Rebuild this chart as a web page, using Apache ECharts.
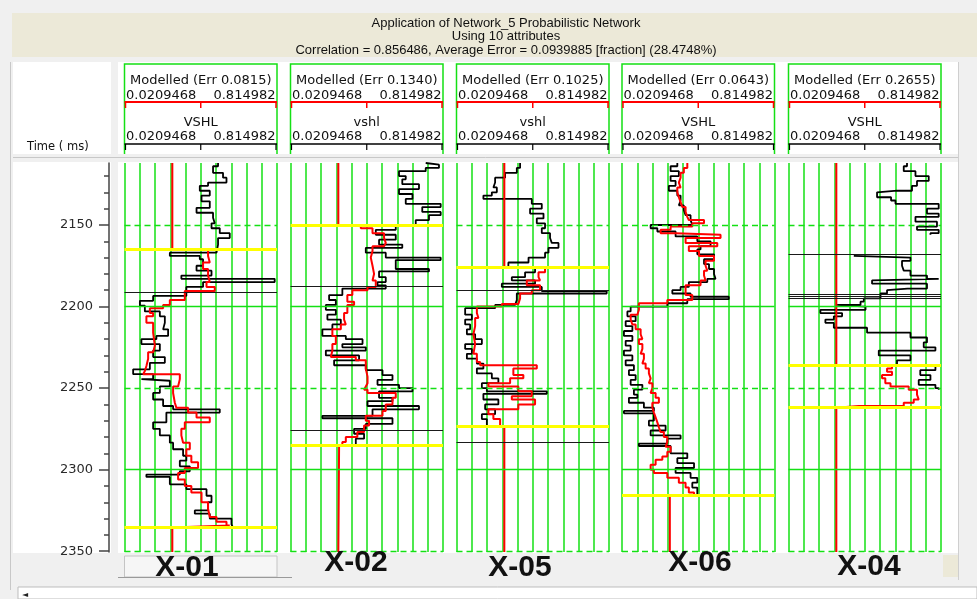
<!DOCTYPE html>
<html>
<head>
<meta charset="utf-8">
<script src="https://cdn.jsdelivr.net/npm/echarts/dist/echarts.min.js"></script>
<style>
  html, body { margin: 0; padding: 0; background: #f0f0f0; }
  #chart { width: 977px; height: 599px; }
</style>
</head>
<body>
<div id="chart"></div>
<script>
// ---- Axis ranges and labels ----
const timeMin = 2112;
const timeMax = 2350.5;
const labelTimes = [2150, 2200, 2250, 2300, 2350];
const minorTimes = [2120, 2130, 2140, 2150, 2160, 2170, 2180, 2190, 2200, 2210, 2220, 2230, 2240,
  2250, 2260, 2270, 2280, 2290, 2300, 2310, 2320, 2330, 2340, 2350];
const gridTimes = [2150, 2200, 2250, 2300, 2350];
const scaleMin = 0.0209468;
const scaleMax = 0.814982;
const scaleLabels = ['0.0209468', '0.814982'];

const titleLines = [
  'Application of Network_5 Probabilistic Network',
  'Using 10 attributes',
  'Correlation = 0.856486, Average Error = 0.0939885 [fraction] (28.4748%)'
];
const wellNames = ['X-01', 'X-02', 'X-05', 'X-06', 'X-04'];
const curveNames = ['VSHL', 'vshl', 'vshl', 'VSHL', 'VSHL'];
const modelErrors = ['0.0815', '0.1340', '0.1025', '0.0643', '0.2655'];
const modelFill = [0.27, 0.27, 0.27, 0.27, 0.27];

// ---- Well X-01 : [time ms, value] ----
const x01Vshl = [[2112,0.508],[2114,0.482],[2118,0.534],[2121,0.552],[2124,0.456],[2126,0.413],[2129,0.465],
  [2132,0.422],[2135.5,0.465],[2139.5,0.396],[2142.5,0.482],[2145.5,0.491],[2149,0.474],[2152,0.517],[2155,0.569],
  [2158,0.508],[2162,0.500],[2167,0.257],[2169,0.413],[2171,0.430],[2175,0.396],[2178,0.474],[2181,0.317],
  [2183,0.803],[2185,0.430],[2188,0.343],[2193.5,0.170],[2196.5,0.101],[2199.5,0.127],[2203,0.205],[2206,0.231],
  [2210,0.222],[2214,0.248],[2218,0.187],[2220,0.109],[2223,0.205],[2227,0.170],[2231,0.231],[2234.5,0.153],
  [2238.5,0.066],[2241.5,0.170],[2244.5,0.109],[2245.5,0.257],[2249,0.205],[2253,0.170],[2257,0.222],[2261,0.274],
  [2263,0.517],[2265,0.239],[2271,0.170],[2275,0.205],[2279,0.257],[2283.5,0.274],[2287.5,0.326],[2291.5,0.343],
  [2294.5,0.309],[2298,0.361],[2301,0.309],[2303,0.135],[2304.5,0.257],[2309,0.343],[2312,0.448],[2316,0.474],
  [2320,0.456],[2325,0.387],[2327,0.465],[2330,0.578],[2333.5,0.586],[2335.5,0.569]];
const x01Model = [[2165,0.456],[2169,0.465],[2173,0.430],[2177,0.456],[2181,0.465],[2185,0.448],[2188,0.491],
  [2190.5,0.335],[2196,0.257],[2199,0.222],[2201,0.153],[2204,0.170],[2206,0.135],[2210,0.170],[2216,0.179],
  [2224,0.170],[2228,0.144],[2232,0.135],[2236.5,0.127],[2239.5,0.118],[2241.5,0.309],[2244.5,0.300],[2249,0.274],
  [2253,0.283],[2259,0.291],[2262,0.352],[2265,0.396],[2268,0.465],[2271,0.335],[2275,0.317],[2279,0.326],
  [2283.5,0.361],[2287.5,0.343],[2291.5,0.369],[2295.5,0.404],[2299,0.335],[2302,0.300],[2306,0.335],[2310,0.369],
  [2314,0.422],[2320,0.456],[2324,0.465],[2329,0.500],[2332,0.552],[2334.3,0.569],[2335.5,0.569]];
const x01Window = [2165, 2335.5];
const x01Breaks = [2191.2];

// ---- Well X-02 ----
const x02Vshl = [[2112,0.725],[2113,0.794],[2115,0.725],[2117,0.586],[2120,0.621],[2122,0.603],[2125,0.690],
  [2128,0.586],[2131,0.656],[2134,0.621],[2137,0.803],[2139,0.707],[2142,0.803],[2144,0.742],[2147,0.673],
  [2150,0.569],[2153,0.465],[2156,0.569],[2159,0.482],[2162,0.603],[2164,0.413],[2167,0.517],[2170,0.803],
  [2171.5,0.569],[2177,0.742],[2178.5,0.482],[2182,0.517],[2185,0.474],[2187,0.517],[2189,0.291],[2193,0.222],
  [2196,0.257],[2199,0.205],[2202,0.257],[2205,0.213],[2208,0.283],[2211,0.239],[2214,0.187],[2218,0.309],
  [2220,0.396],[2223,0.291],[2225,0.413],[2227,0.205],[2230,0.378],[2233,0.248],[2236,0.413],[2239,0.500],
  [2242,0.552],[2245,0.474],[2248,0.586],[2250,0.656],[2252,0.482],[2256,0.552],[2258,0.422],[2261,0.690],
  [2263,0.448],[2267,0.187],[2268.5,0.552],[2272,0.413],[2275,0.352],[2278,0.404],[2281,0.361],[2285,0.369]];
const x02Model = [[2150,0.387],[2152,0.448],[2155,0.508],[2158,0.517],[2161,0.508],[2163,0.448],[2166,0.439],
  [2170,0.448],[2175,0.456],[2180,0.448],[2184,0.465],[2188,0.422],[2190,0.343],[2193,0.317],[2197,0.352],
  [2199,0.317],[2204,0.300],[2208,0.309],[2211,0.283],[2214,0.239],[2218,0.257],[2223,0.239],[2227,0.231],
  [2231,0.361],[2233,0.413],[2238,0.422],[2243,0.422],[2247,0.413],[2249,0.404],[2251,0.422],[2253,0.569],
  [2256,0.552],[2260,0.517],[2264,0.500],[2267,0.413],[2270,0.430],[2273,0.404],[2277,0.369],[2280,0.309],
  [2283,0.291],[2285,0.274]];
const x02Window = [2150, 2285];
const x02Breaks = [2187.5, 2275.7];

// ---- Well X-05 ----
const x05Vshl = [[2112,0.352],[2115,0.335],[2118,0.274],[2121,0.222],[2124,0.213],[2127,0.231],[2130,0.205],
  [2132,0.161],[2134,0.413],[2137,0.465],[2140,0.404],[2143,0.474],[2146,0.439],[2149,0.482],[2152,0.465],
  [2155,0.508],[2158,0.517],[2161,0.552],[2164,0.500],[2167,0.482],[2170,0.396],[2173,0.291],[2176,0.430],
  [2179,0.378],[2182,0.309],[2184,0.430],[2186,0.257],[2188,0.465],[2190.5,0.803],[2192,0.335],[2196,0.326],
  [2199,0.222],[2201,0.066],[2205,0.101],[2208,0.066],[2211,0.092],[2214,0.075],[2217,0.118],[2220,0.153],
  [2223,0.066],[2226,0.101],[2229,0.075],[2232,0.127],[2235,0.161],[2238,0.127],[2241,0.205],[2244,0.239],
  [2247,0.153],[2250,0.179],[2252,0.491],[2253.5,0.161],[2257,0.239],[2260,0.170],[2263,0.222],[2266,0.153],
  [2269,0.179],[2273,0.179]];
const x05Model = [[2176,0.482],[2179,0.448],[2182,0.456],[2184,0.387],[2187,0.456],[2190,0.413],[2192,0.352],
  [2195,0.343],[2198.5,0.257],[2200,0.127],[2204,0.135],[2207,0.118],[2212,0.109],[2217,0.118],[2223,0.109],
  [2229,0.127],[2234,0.144],[2236,0.439],[2238,0.317],[2242,0.369],[2244,0.300],[2247,0.187],[2249,0.343],
  [2252,0.413],[2255,0.309],[2257,0.430],[2260,0.343],[2263,0.187],[2266,0.213],[2269,0.248],[2273.7,0.248]];
const x05Window = [2176, 2273.7];
const x05Breaks = [2190, 2283.5];

// ---- Well X-06 (model window opens above the displayed interval) ----
const x06Vshl = [[2112,0.309],[2114,0.274],[2117,0.317],[2120,0.274],[2123,0.300],[2126,0.265],[2129,0.309],
  [2132,0.326],[2135,0.317],[2138,0.343],[2141,0.352],[2144,0.378],[2147,0.387],[2150,0.170],[2152,0.205],
  [2154,0.300],[2157,0.413],[2160,0.482],[2163,0.430],[2165,0.413],[2168,0.500],[2171,0.448],[2174,0.474],
  [2177,0.500],[2180,0.508],[2183,0.465],[2185,0.369],[2188,0.326],[2190,0.283],[2192,0.378],[2194,0.577],
  [2195.5,0.361],[2198,0.257],[2200,0.066],[2203,0.049],[2206,0.092],[2209,0.040],[2212,0.075],[2215,0.031],
  [2218,0.075],[2221,0.040],[2224,0.066],[2227,0.031],[2230,0.075],[2233,0.040],[2236,0.083],[2239,0.057],
  [2242,0.092],[2245,0.066],[2248,0.127],[2251,0.083],[2254,0.101],[2256,0.057],[2259,0.135],[2262,0.187],
  [2264,0.031],[2265.5,0.187],[2270,0.161],[2273,0.248],[2276,0.170],[2279,0.326],[2281,0.257],[2284,0.109],
  [2285.5,0.274],[2290,0.361],[2293,0.309],[2296,0.396],[2299,0.300],[2302,0.378],[2305,0.413],[2308,0.387],
  [2311,0.413],[2316,0.413]];
const x06Model = [[2112,0.361],[2115,0.343],[2118,0.326],[2121,0.317],[2124,0.326],[2127,0.309],[2130,0.317],
  [2133,0.326],[2136,0.335],[2139,0.352],[2142,0.361],[2145,0.369],[2147,0.448],[2149,0.387],[2151,0.274],
  [2153,0.222],[2155,0.300],[2156,0.534],[2158,0.352],[2161,0.517],[2163,0.369],[2166,0.422],[2169,0.500],
  [2172,0.456],[2175,0.465],[2178,0.448],[2181,0.456],[2184,0.430],[2187,0.352],[2190,0.352],[2193,0.387],
  [2196,0.257],[2198,0.109],[2202,0.101],[2205,0.066],[2208,0.075],[2211,0.092],[2214,0.118],[2217,0.127],
  [2220,0.109],[2223,0.127],[2226,0.118],[2229,0.135],[2232,0.127],[2235,0.144],[2238,0.161],[2241,0.170],
  [2244,0.161],[2247,0.179],[2250,0.170],[2253,0.196],[2256,0.213],[2259,0.179],[2262,0.187],[2265,0.196],
  [2268,0.205],[2271,0.213],[2274,0.222],[2277,0.239],[2280,0.257],[2283,0.248],[2286,0.274],[2289,0.257],
  [2292,0.231],[2294,0.196],[2297,0.170],[2300,0.187],[2302,0.257],[2305,0.317],[2308,0.352],[2311,0.369],
  [2314,0.396],[2316,0.404]];
const x06Window = [null, 2316];
const x06Breaks = [];

// ---- Well X-04 (null marks a gap in the log) ----
const x04Vshl = [[2112,0.638],[2114,0.621],[2117,0.682],[2120,0.751],[2123,0.690],[2126,0.664],[2129,0.586],
  [2130,0.482],[2133,0.555],[2135,0.578],[2137,0.803],[2140,0.742],[2143,0.803],[2145,0.682],[2148,0.794],
  [2151,0.690],[2153,0.803],[2155,0.760],[2156,0.760], null,
  [2169,0.361],[2170,0.656],[2172,0.612],[2175,0.621],[2178,0.656],[2181,0.742],[2183,0.803],[2184,0.456],
  [2186,0.742],[2189,0.641],[2190,0.534],[2192,0.500],[2195,0.413],[2197,0.396],[2199,0.274],[2200,0.422],
  [2202,0.187],[2204,0.300],[2206,0.257],[2208,0.213],[2210,0.257],[2213,0.430],[2216,0.656],[2219,0.742],
  [2222,0.725],[2225,0.786],[2227,0.491],[2230,0.656],[2233,0.586],[2236,0.786],[2239,0.707],[2242,0.760],
  [2245,0.699],[2248,0.786],[2250,0.803],[2251,0.803]];
const x04Model = [[2236,0.560],[2238,0.534],[2240,0.560],[2242,0.508],[2244,0.525],[2247,0.552],[2249,0.647],
  [2251,0.690],[2254,0.699],[2257,0.673],[2259,0.621],[2261,0.387],[2262,0.387]];
const x04Window = [2236, 2262];
const x04Breaks = [2167.8, 2192.7, 2193.7, 2194.7];

const wellVshl = [x01Vshl, x02Vshl, x05Vshl, x06Vshl, x04Vshl];
const wellModel = [x01Model, x02Model, x05Model, x06Model, x04Model];
const wellWindow = [x01Window, x02Window, x05Window, x06Window, x04Window];
const wellBreaks = [x01Breaks, x02Breaks, x05Breaks, x06Breaks, x04Breaks];

// ---- Layout ----
const trackLeft = [124.5, 290.5, 456.5, 622, 788.5];
const trackWidth = 152.5;
const plotTop = 163;
const plotHeight = 389;
const GREEN = '#14e014';
const YELLOW = '#ffff00';
const RED = '#ff0000';
const FONT = 'DejaVu Sans';

function toPoints(rows) {
  return rows.map(r => r === null ? [NaN, NaN] : [r[1], r[0]]);
}
function modelPath(curve, win, fill) {
  const pts = [];
  if (win[0] !== null) pts.push([fill, timeMin], [fill, win[0]]);
  curve.forEach(r => pts.push([r[1], r[0]]));
  if (win[1] !== null) pts.push([fill, win[1]], [fill, timeMax]);
  return pts;
}

const grids = [{ left: 109, top: plotTop, width: 4, height: plotHeight }];
const xAxes = [{ gridIndex: 0, type: 'value', show: false, min: 0, max: 1 }];
const yAxes = [
  { gridIndex: 0, type: 'value', inverse: true, min: timeMin, max: timeMax, position: 'left',
    axisLine: { show: true, lineStyle: { color: '#444', width: 1.5 } },
    axisTick: { show: true, customValues: minorTimes, length: 5, lineStyle: { color: '#444', width: 1.5 } },
    axisLabel: { show: false }, splitLine: { show: false } },
  { gridIndex: 0, type: 'value', inverse: true, min: timeMin, max: timeMax, position: 'left',
    axisLine: { show: false },
    axisTick: { show: true, customValues: labelTimes, length: 10, lineStyle: { color: '#444', width: 1.5 } },
    axisLabel: { show: true, customValues: labelTimes, margin: 16, color: '#2a2a2a', fontSize: 13,
      fontFamily: FONT, formatter: v => String(v) },
    splitLine: { show: false } }
];
const series = [];

wellNames.forEach((name, i) => {
  const g = i + 1;
  grids.push({ left: trackLeft[i], top: plotTop, width: trackWidth, height: plotHeight });
  // 10 equal divisions of the value scale
  xAxes.push({ gridIndex: g, type: 'value', min: 0, max: 10, interval: 1,
    axisLine: { show: false }, axisTick: { show: false }, axisLabel: { show: false },
    splitLine: { show: true, lineStyle: { color: GREEN, width: 1.5 } } });
  xAxes.push({ gridIndex: g, type: 'value', min: scaleMin, max: scaleMax, show: false });
  yAxes.push({ gridIndex: g, type: 'value', inverse: true, min: timeMin, max: timeMax, show: false });
  const xi = 2 * i + 2;
  const yi = g + 1;

  series.push({
    type: 'line', xAxisIndex: xi, yAxisIndex: yi, data: [], silent: true, z: 1,
    markLine: { symbol: 'none', silent: true, animation: false, label: { show: false },
      data: gridTimes.map(t => ({ yAxis: t,
        lineStyle: { color: GREEN, width: 1.3, type: t % 100 === 0 ? 'solid' : [6, 4] } })) }
  });
  series.push({
    type: 'line', xAxisIndex: xi, yAxisIndex: yi, data: [], silent: true, z: 2,
    markLine: { symbol: 'none', silent: true, animation: false, label: { show: false },
      data: wellWindow[i].filter(t => t !== null).map(t => ({ yAxis: t,
        lineStyle: { color: YELLOW, width: 3, type: 'solid' } })) }
  });
  series.push({
    name: curveNames[i], type: 'line', xAxisIndex: xi, yAxisIndex: yi, z: 3,
    data: toPoints(wellVshl[i]), step: 'start', showSymbol: false, symbol: 'none',
    lineStyle: { color: '#000', width: 1.8 },
    markLine: { symbol: 'none', silent: true, animation: false, label: { show: false },
      data: wellBreaks[i].map(t => ({ yAxis: t, lineStyle: { color: '#1a1a1a', width: 1.2, type: 'solid' } })) }
  });
  series.push({
    name: 'Modelled', type: 'line', xAxisIndex: xi, yAxisIndex: yi, z: 4,
    data: modelPath(wellModel[i], wellWindow[i], modelFill[i]), step: 'start', showSymbol: false, symbol: 'none',
    lineStyle: { color: RED, width: 2 }
  });
});

// ---- Window furniture: title band, panels, curve headers, well tabs ----
const graphic = [];
const bg = (x, y, w, h, fill, stroke) => graphic.push({ type: 'rect', z: -10, silent: true,
  shape: { x, y, width: w, height: h }, style: { fill, stroke: stroke || null, lineWidth: 1 } });
const line = (pts, stroke, w, z) => graphic.push({ type: 'polyline', z: z || 5, silent: true,
  shape: { points: pts }, style: { stroke, lineWidth: w, fill: null } });
const text = (str, x, y, align, size, extra) => graphic.push({ type: 'text', z: 6, silent: true, x, y,
  style: Object.assign({ text: str, align, verticalAlign: 'middle', fill: '#111',
    font: size + 'px "' + FONT + '"' }, extra || {}) });

bg(12, 13, 965, 44, '#ece9d8');
titleLines.forEach((s, k) => text(s, 506, [23, 36, 50][k], 'center', 13,
  { font: '13px "Liberation Sans"' }));

bg(13, 62, 98, 92, '#ffffff');
bg(118, 62, 840, 92, '#ffffff');
bg(13, 162, 98, 391, '#ffffff');
bg(118, 162, 840, 391, '#ffffff');
line([[10.5, 62], [10.5, 590]], '#c8c8c8', 1, -5);
line([[13, 157.5], [958, 157.5]], '#c8c8c8', 1, -5);
line([[958.5, 62], [958.5, 580]], '#cfcfcf', 1, -5);
text('Time ( ms)', 27, 147, 'left', 11.5);

wellNames.forEach((name, i) => {
  const L = trackLeft[i], R = L + trackWidth, C = L + trackWidth / 2;
  line([[L, 154], [L, 64], [R, 64], [R, 154]], GREEN, 1.5);
  text('Modelled (Err ' + modelErrors[i] + ')', C, 81, 'center', 13);
  text(scaleLabels[0], L + 1.5, 95.5, 'left', 13);
  text(scaleLabels[1], R - 1.5, 95.5, 'right', 13);
  line([[L, 102], [R, 102]], RED, 2);
  [L + 1, C, R - 1].forEach(x => line([[x, 102], [x, 108]], RED, 1.5));
  text(curveNames[i], C, 123, 'center', 13);
  text(scaleLabels[0], L + 1.5, 137, 'left', 13);
  text(scaleLabels[1], R - 1.5, 137, 'right', 13);
  line([[L, 144], [R, 144]], '#000', 1.5);
  [L + 1, C, R - 1].forEach(x => line([[x, 144], [x, 150]], '#000', 1.2));
});

// first well tab drawn as a raised button
bg(trackLeft[0], 556, trackWidth, 21, '#f6f6f6', '#c4c4c4');
line([[118, 577.5], [292, 577.5]], '#9a9a9a', 1, -5);
const tabCenters = [187, 356, 520, 700, 869];
const tabY = [568, 563, 568, 563, 567];
wellNames.forEach((name, i) => text(name, tabCenters[i], tabY[i], 'center', 30,
  { font: 'bold 30px "Liberation Sans"', fill: '#111' }));

bg(943, 555, 15, 22, '#ece9d8');
bg(18, 587, 959, 12, '#ffffff', '#bdbdbd');
text('\u25C4', 22, 595, 'left', 8, { font: '8px "' + FONT + '"', fill: '#222' });

const chart = echarts.init(document.getElementById('chart'), null, { renderer: 'canvas' });
chart.setOption({
  animation: false,
  backgroundColor: '#f0f0f0',
  textStyle: { fontFamily: FONT },
  grid: grids,
  xAxis: xAxes,
  yAxis: yAxes,
  series: series,
  graphic: graphic
});
</script>
</body>
</html>
